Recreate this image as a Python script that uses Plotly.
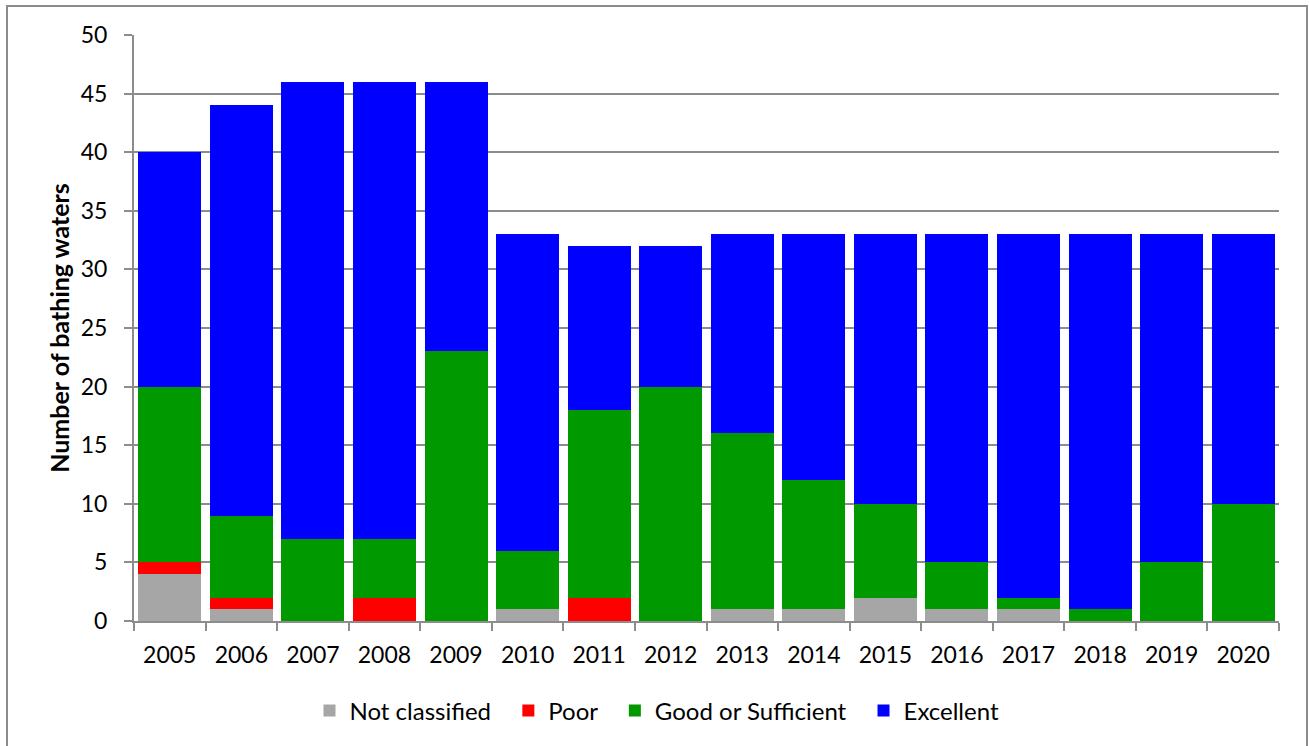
import plotly.graph_objects as go

years = ["2005", "2006", "2007", "2008", "2009", "2010", "2011", "2012",
         "2013", "2014", "2015", "2016", "2017", "2018", "2019", "2020"]
not_classified = [4, 1, 0, 0, 0, 1, 0, 0, 1, 1, 2, 1, 1, 0, 0, 0]
poor = [1, 1, 0, 2, 0, 0, 2, 0, 0, 0, 0, 0, 0, 0, 0, 0]
good_or_sufficient = [15, 7, 7, 5, 23, 5, 16, 20, 15, 11, 8, 4, 1, 1, 5, 10]
excellent = [20, 35, 39, 39, 23, 27, 14, 12, 17, 21, 23, 28, 31, 32, 28, 23]

series = [
    ("Not classified", not_classified, "#a6a6a6"),
    ("Poor", poor, "#ff0000"),
    ("Good or Sufficient", good_or_sufficient, "#009900"),
    ("Excellent", excellent, "#0000ff"),
]

fig = go.Figure()
for name, vals, col in series:
    fig.add_trace(go.Bar(x=years, y=vals, name=name + "\u00a0\u00a0",
                         marker=dict(color=col, line=dict(width=0))))

W, H = 1309, 746
L, R, T, B = 134, 1279, 35, 621
pw, ph = R - L, B - T

def px(x):
    return (x - L) / pw

def py(y):
    return (B - y) / ph

fig.update_layout(
    width=W, height=H,
    barmode="stack", bargap=0.12,
    margin=dict(l=L, r=W - R, t=T, b=H - B),
    paper_bgcolor="white", plot_bgcolor="white",
    font=dict(family="Lato, Open Sans, sans-serif", size=23, color="black"),
    xaxis=dict(showline=True, linecolor="#8c8c8c", linewidth=2, ticks="outside",
               ticklen=8, tickcolor="#8c8c8c", tickwidth=2, tickson="boundaries",
               showgrid=False, tickfont=dict(size=23), ticklabelstandoff=12),
    yaxis=dict(range=[0, 50], dtick=5, showline=True, linecolor="#8c8c8c", linewidth=2,
               ticks="outside", ticklen=8, tickcolor="#8c8c8c", tickwidth=2,
               showgrid=True, gridcolor="#8c8c8c", gridwidth=2, zeroline=False,
               tickfont=dict(size=23), ticklabelstandoff=12,
               title=dict(text="<b>Number of bathing waters</b>", font=dict(size=25), standoff=4)),
    legend=dict(orientation="h", x=px(663), xanchor="center", y=py(711), yanchor="middle",
                font=dict(size=24), traceorder="normal", itemwidth=30),
    shapes=[dict(type="rect", xref="paper", yref="paper",
                 x0=px(7), x1=px(1307), y0=py(760), y1=py(6),
                 line=dict(color="#8c8c8c", width=2), fillcolor="rgba(0,0,0,0)", layer="below")],
)

fig.write_html("out.html", config={"displayModeBar": False},
               post_script="document.body.style.margin='0';document.body.style.overflow='hidden';")
